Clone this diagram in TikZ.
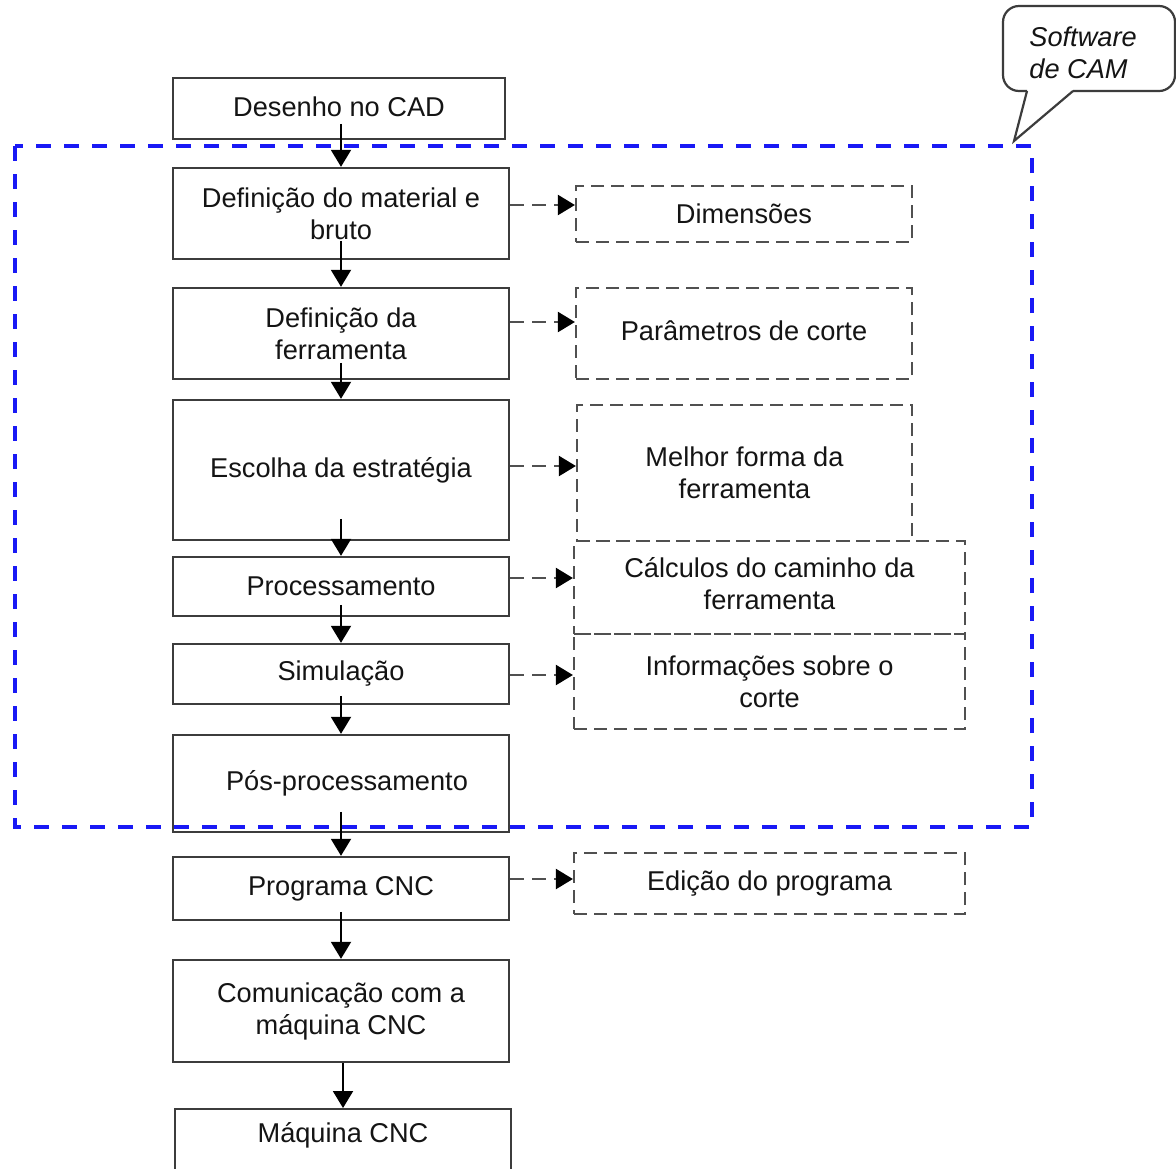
\documentclass[tikz,border=0pt]{standalone}
\usepackage{fontspec}
\setmainfont{Liberation Sans}
\usetikzlibrary{arrows.meta,calc}
\definecolor{edge}{RGB}{60,60,60}
\definecolor{dgray}{RGB}{80,80,80}
\definecolor{camblue}{RGB}{25,25,245}
\definecolor{ink}{RGB}{20,20,20}
\tikzset{
  mainbox/.style={draw=edge, line width=1.2pt, align=center, inner sep=0pt, text=ink},
  sidebox/.style={draw=dgray, line width=1.1pt, dash pattern=on 6.5pt off 3.5pt, align=center, inner sep=0pt, text=ink},
  arr/.style={draw=black, line width=1pt, -{Triangle[length=8.5pt,width=10pt,color=black]}},
  darr/.style={draw=dgray, line width=1.1pt, dash pattern=on 7pt off 4pt, -{Triangle[length=8.5pt,width=10pt,color=black]}},
}
\begin{document}
\begin{tikzpicture}[x=0.5pt, y=-0.5pt, font=\fontsize{13.6}{16}\selectfont]
\useasboundingbox (0,0) rectangle (1176,1168);
\clip (0,0) rectangle (1176,1168);
\fill[white] (0,0) rectangle (1176,1168);

% main column
\node[mainbox, minimum width=166pt, minimum height=30.5pt] (n1) at (339,108.5) {\raisebox{2pt}{Desenho no CAD}};
\node[mainbox, minimum width=168pt, minimum height=45.5pt] (n2) at (341,213.5) {Definição do material e\\bruto};
\node[mainbox, minimum width=168pt, minimum height=45.5pt] (n3) at (341,333.5) {Definição da\\ferramenta};
\node[mainbox, minimum width=168pt, minimum height=70pt] (n4) at (341,470) {\raisebox{2pt}{Escolha da estratégia}};
\node[mainbox, minimum width=168pt, minimum height=29.5pt] (n5) at (341,586.5) {Processamento};
\node[mainbox, minimum width=168pt, minimum height=30pt] (n6) at (341,674) {Simulação};
\node[mainbox, minimum width=168pt, minimum height=48.5pt] (n7) at (341,783.5) {\hspace*{6pt}Pós-processamento};
\node[mainbox, minimum width=168pt, minimum height=31.5pt] (n8) at (341,888.5) {Programa CNC};
\node[mainbox, minimum width=168pt, minimum height=51pt] (n9) at (341,1011) {Comunicação com a\\máquina CNC};
\node[mainbox, minimum width=168pt, minimum height=50pt, anchor=north] (n10) at (343,1108) {};
\node[text=ink] (t10) at ($(n10.north)+(0,27)$) {Máquina CNC};

% side boxes
\node[sidebox, minimum width=168pt, minimum height=28pt] (s1) at (744,214) {Dimensões};
\node[sidebox, minimum width=168pt, minimum height=45.5pt] (s2) at (744,333.5) {\raisebox{3pt}{Parâmetros de corte}};
\node[sidebox, minimum width=167.5pt, minimum height=68pt] (s3) at (744.5,473) {Melhor forma da\\ferramenta};
\node[sidebox, minimum width=195.5pt, minimum height=46.5pt] (s4) at (769.5,587.5) {\raisebox{1.5pt}{\begin{tabular}{@{}c@{}}Cálculos do caminho da\\ferramenta\end{tabular}}};
\node[sidebox, minimum width=195.5pt, minimum height=47.5pt] (s5) at (769.5,681.5) {Informações sobre o\\corte};
\node[sidebox, minimum width=195.5pt, minimum height=30.5pt] (s6) at (769.5,883.5) {Edição do programa};

% vertical arrows
\draw[arr] ($(n2.north)+(0,-43)$) -- (n2.north);
\draw[arr] ($(n3.north)+(0,-46)$) -- (n3.north);
\draw[arr] ($(n4.north)+(0,-36)$) -- (n4.north);
\draw[arr] ($(n5.north)+(0,-37)$) -- (n5.north);
\draw[arr] ($(n6.north)+(0,-38)$) -- (n6.north);
\draw[arr] ($(n7.north)+(0,-38)$) -- (n7.north);
\draw[arr] ($(n8.north)+(0,-44)$) -- (n8.north);
\draw[arr] ($(n9.north)+(0,-47)$) -- (n9.north);
\draw[arr] (n10.north |- n9.south) -- (n10.north);

% dashed side arrows
\draw[darr] (n2.east |- 0,205) -- (s1.west |- 0,205);
\draw[darr] (n3.east |- 0,322) -- (s2.west |- 0,322);
\draw[darr] (n4.east |- 0,466) -- (s3.west |- 0,466);
\draw[darr] (n5.east |- 0,578) -- (s4.west |- 0,578);
\draw[darr] (n6.east |- 0,675) -- (s5.west |- 0,675);
\draw[darr] (n8.east |- 0,879) -- (s6.west |- 0,879);

% CAM region
\draw[camblue, line width=1.6pt, dash pattern=on 7.5pt off 6.5pt] (15,146) rectangle (1032,827);

% callout
\draw[edge, line width=1.1pt, rounded corners=8pt] (1027,91) -- (1003,91) -- (1003,6) -- (1175,6) -- (1175,91) -- (1073,91);
\draw[edge, line width=1.1pt, line join=miter] (1027,91) -- (1014,141) -- (1073,91);
\node[font=\fontsize{13.6}{16}\selectfont\itshape, align=left, anchor=west, inner sep=0pt, text=ink] (cam) at (1029,53) {Software\\de CAM};
\end{tikzpicture}
\end{document}
